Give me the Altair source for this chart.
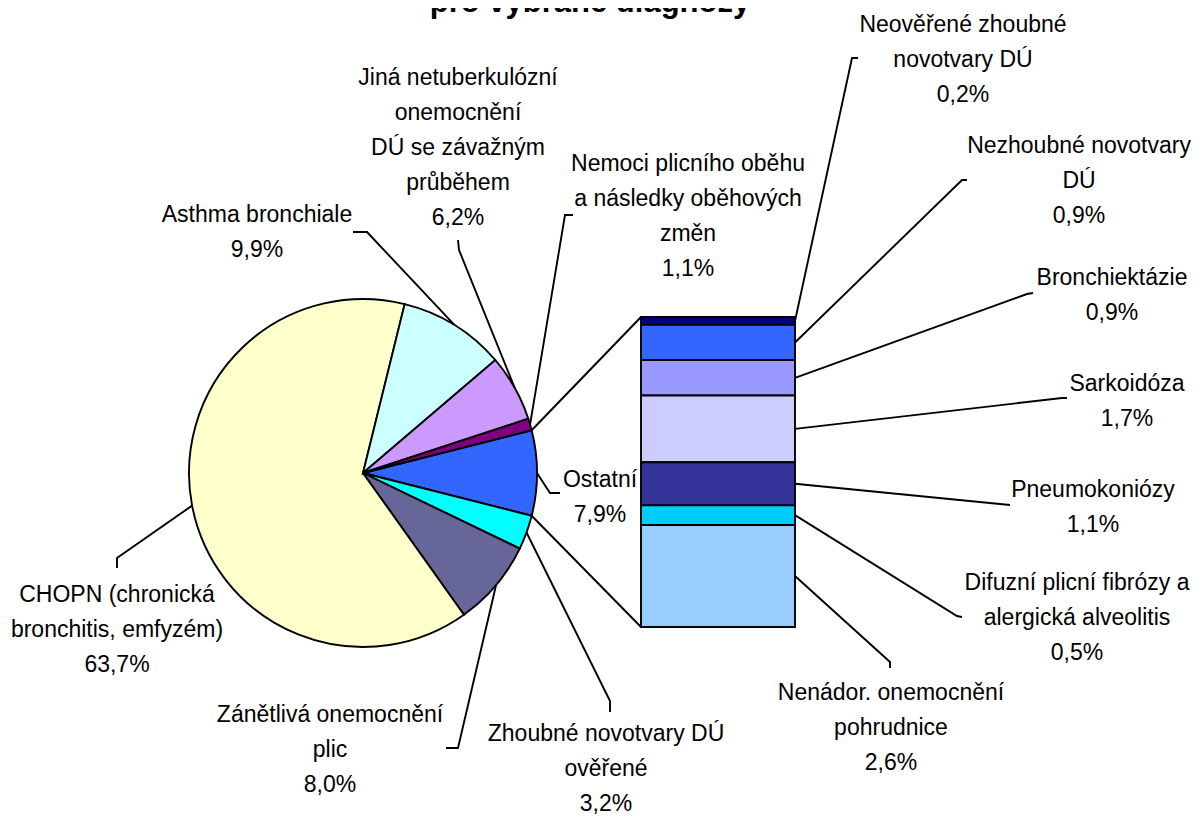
import math
import altair as alt
import pandas as pd

# ---------------- data ----------------
pie_names = [
    "Ostatní",
    "Zhoubné novotvary DÚ ověřené",
    "Zánětlivá onemocnění plic",
    "CHOPN (chronická bronchitis, emfyzém)",
    "Asthma bronchiale",
    "Jiná netuberkulózní onemocnění DÚ se závažným průběhem",
    "Nemoci plicního oběhu a následky oběhových změn",
]
pie_label_lines = [
    "Ostatní",
    "Zhoubné novotvary DÚ\nověřené",
    "Zánětlivá onemocnění\nplic",
    "CHOPN (chronická\nbronchitis, emfyzém)",
    "Asthma bronchiale",
    "Jiná netuberkulózní\nonemocnění\nDÚ se závažným\nprůběhem",
    "Nemoci plicního oběhu\na následky oběhových\nzměn",
]
pie_values = [7.9, 3.2, 8.0, 63.7, 9.9, 6.2, 1.1]
pie_colors = ["#3366FF", "#00FFFF", "#666699", "#FFFFCC", "#CCFFFF", "#CC99FF", "#800080"]

# stacked bar (breakdown of "Ostatní"), top to bottom
bar_names = [
    "Neověřené zhoubné novotvary DÚ",
    "Nezhoubné novotvary DÚ",
    "Bronchiektázie",
    "Sarkoidóza",
    "Pneumokoniózy",
    "Difuzní plicní fibrózy a alergická alveolitis",
    "Nenádor. onemocnění pohrudnice",
]
bar_label_lines = [
    "Neověřené zhoubné\nnovotvary DÚ",
    "Nezhoubné novotvary\nDÚ",
    "Bronchiektázie",
    "Sarkoidóza",
    "Pneumokoniózy",
    "Difuzní plicní fibrózy a\nalergická alveolitis",
    "Nenádor. onemocnění\npohrudnice",
]
bar_values = [0.2, 0.9, 0.9, 1.7, 1.1, 0.5, 2.6]
bar_colors = ["#000080", "#3366FF", "#9999FF", "#CCCCFF", "#333399", "#00CCFF", "#99CCFF"]

title_text = "pro vybrané diagnózy"

# ---------------- layout (page pixel coordinates) ----------------
W, H, OFF = 1183, 809, 8
PIE_CX, PIE_CY, PIE_R = 363, 473, 174
BAR_X0, BAR_X1, BAR_TOP, BAR_BOTTOM = 641, 795, 317, 627
FONT = "Liberation Sans, Arial, sans-serif"
FS, LH = 23, 35
LW = 1.9

pie_label_pos = [(600, 487), (606, 741), (330, 722), (117, 602), (257, 222), (458, 85), (688, 171)]
pie_elbows = [
    [(550, 493), (560, 493)],
    [(610, 701), (610, 712)],
    [(458, 748), (446, 748)],
    [(117, 558), (117, 568)],
    [(367, 232), (353, 232)],
    [(459, 250), (458, 240)],
    [(565, 215), (573, 215)],
]
bar_label_pos = [(963, 32), (1079, 153), (1112, 285), (1127, 391), (1093, 497), (1077, 590), (891, 700)]
bar_elbows = [
    [(852, 58), (858, 58)],
    [(962, 180), (967, 180)],
    [(1027, 294), (1033, 293)],
    [(1062, 398), (1067, 398)],
    [(1010, 505)],
    [(957, 616), (962, 617)],
    [(890, 662), (890, 668)],
]


def pct(v):
    return f"{v:.1f}".replace(".", ",") + "%"


pie_total = sum(pie_values)
start = math.pi / 2 - math.pi * pie_values[0] / pie_total
bar_total = sum(bar_values)

pie_df = pd.DataFrame({
    "name": pie_names, "value": pie_values, "color": pie_colors,
    "ord": list(range(len(pie_names))),
})
n_bar = len(bar_names)
bar_df = pd.DataFrame({
    "name": bar_names, "value": bar_values, "color": bar_colors,
    "ord": [n_bar - 1 - i for i in range(n_bar)],
})

lines = []
texts = []
cum = 0.0
for i, v in enumerate(pie_values):
    a = start + 2 * math.pi * (cum + v / 2) / pie_total
    cum += v
    ex = PIE_CX + PIE_R * math.sin(a)
    ey = PIE_CY - PIE_R * math.cos(a)
    pts = [(ex, ey)] + pie_elbows[i]
    for k, (x, y) in enumerate(pts):
        lines.append({"id": f"p{i}", "k": k, "x": x, "y": y})
    tx, ty = pie_label_pos[i]
    texts.append({"x": tx, "y": ty, "text": pie_label_lines[i] + "\n" + pct(v)})

# bar leaders: segment middles, bottom-up stacking
px_per = (BAR_BOTTOM - BAR_TOP) / bar_total
below = [sum(bar_values[j + 1:]) for j in range(n_bar)]
for i, v in enumerate(bar_values):
    ym = BAR_BOTTOM - (below[i] + v / 2) * px_per
    pts = [(BAR_X1, ym)] + bar_elbows[i]
    for k, (x, y) in enumerate(pts):
        lines.append({"id": f"b{i}", "k": k, "x": x, "y": y})
    tx, ty = bar_label_pos[i]
    texts.append({"x": tx, "y": ty, "text": bar_label_lines[i] + "\n" + pct(v)})

# connectors between the "Ostatní" slice and the bar
a_top = start
a_bot = start + 2 * math.pi * pie_values[0] / pie_total
for cid, a, by in (("c0", a_top, BAR_TOP), ("c1", a_bot, BAR_BOTTOM)):
    lines.append({"id": cid, "k": 0, "x": PIE_CX + PIE_R * math.sin(a), "y": PIE_CY - PIE_R * math.cos(a)})
    lines.append({"id": cid, "k": 1, "x": BAR_X0, "y": by})

lines_df = pd.DataFrame(lines)
texts_df = pd.DataFrame(texts)
title_df = pd.DataFrame({"x": [590], "y": [12], "text": [title_text]})

xs = alt.Scale(domain=[OFF, OFF + W], range=[0, W], nice=False, zero=False)
ys = alt.Scale(domain=[OFF, OFF + H], range=[0, H], nice=False, zero=False)

pie = alt.Chart(pie_df).mark_arc(radius=PIE_R, stroke="black", strokeWidth=LW).encode(
    theta=alt.Theta("value:Q", stack=True,
                    scale=alt.Scale(domain=[0, pie_total], range=[start, start + 2 * math.pi])),
    color=alt.Color("color:N", scale=None),
    order=alt.Order("ord:Q"),
    x=alt.value(PIE_CX - OFF),
    y=alt.value(PIE_CY - OFF),
)

bar = alt.Chart(bar_df).transform_stack(
    stack="value", groupby=[], as_=["v0", "v1"], sort=[alt.SortField("ord", order="ascending")]
).mark_rect(stroke="black", strokeWidth=LW).encode(
    x=alt.value(BAR_X0 - OFF),
    x2=alt.value(BAR_X1 - OFF),
    y=alt.Y("v0:Q", axis=None,
            scale=alt.Scale(domain=[0, bar_total], range=[BAR_BOTTOM - OFF, BAR_TOP - OFF],
                            nice=False, zero=False)),
    y2="v1:Q",
    color=alt.Color("color:N", scale=None),
)

leaders = alt.Chart(lines_df).mark_line(color="black", strokeWidth=LW).encode(
    x=alt.X("x:Q", scale=xs, axis=None),
    y=alt.Y("y:Q", scale=ys, axis=None),
    detail="id:N",
    order="k:Q",
)

labels = alt.Chart(texts_df).mark_text(
    align="center", baseline="alphabetic", font=FONT, fontSize=FS,
    lineHeight=LH, lineBreak="\n", color="black",
).encode(
    x=alt.X("x:Q", scale=xs, axis=None),
    y=alt.Y("y:Q", scale=ys, axis=None),
    text="text:N",
)

title = alt.Chart(title_df).mark_text(
    align="center", baseline="alphabetic", font="Liberation Sans, Arial, sans-serif",
    fontSize=31, fontWeight="bold", color="black",
).encode(
    x=alt.X("x:Q", scale=xs, axis=None),
    y=alt.Y("y:Q", scale=ys, axis=None),
    text="text:N",
)

chart = alt.layer(pie, bar, leaders, labels, title).resolve_scale(
    y="independent"
).properties(
    width=W, height=H, padding=0, autosize=alt.AutoSizeParams(type="none"),
    background="white",
).configure_view(stroke=None)

chart.save("out.html", embed_options={"renderer": "svg", "actions": False})
